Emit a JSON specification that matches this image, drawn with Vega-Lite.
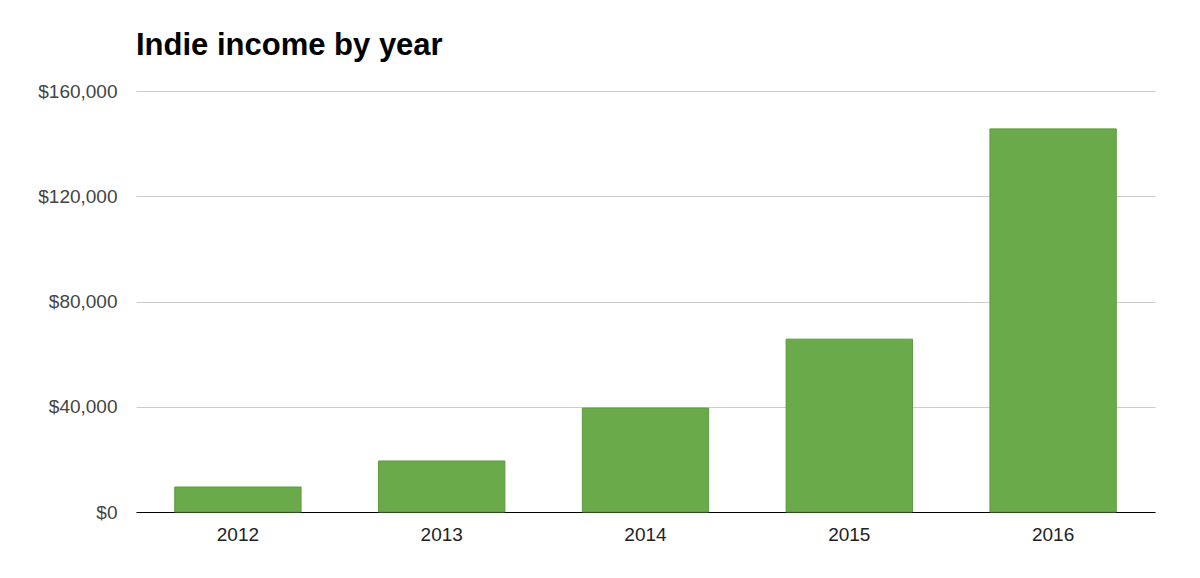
{
  "$schema": "https://vega.github.io/schema/vega-lite/v6.json",
  "autosize": {"type": "none"},
  "padding": {"left": 136, "top": 91, "right": 45, "bottom": 66},
  "width": 1019,
  "height": 421,
  "background": "white",
  "title": {
    "text": "Indie income by year",
    "anchor": "start",
    "frame": "group",
    "font": "Liberation Sans",
    "fontSize": 31,
    "fontWeight": "bold",
    "color": "#000000",
    "offset": 20
  },
  "data": {
    "values": [
      {"year": "2012", "income": 9500},
      {"year": "2013", "income": 19400},
      {"year": "2014", "income": 39500},
      {"year": "2015", "income": 65700},
      {"year": "2016", "income": 145600}
    ]
  },
  "config": {
    "view": {"stroke": null},
    "font": "Liberation Sans"
  },
  "mark": {"type": "bar", "color": "#6aaa4a", "stroke": "#5c9c3c", "strokeWidth": 1},
  "encoding": {
    "x": {
      "field": "year",
      "type": "ordinal",
      "title": null,
      "scale": {"paddingInner": 0.38, "paddingOuter": 0.19},
      "axis": {
        "labelAngle": 0,
        "labelFont": "Liberation Sans",
        "labelFontSize": 19,
        "labelColor": "#222222",
        "labelPadding": 13,
        "ticks": false,
        "domainColor": "#000000",
        "domainWidth": 1,
        "grid": false
      }
    },
    "y": {
      "field": "income",
      "type": "quantitative",
      "title": null,
      "scale": {"domain": [0, 160000], "nice": false},
      "axis": {
        "values": [0, 40000, 80000, 120000, 160000],
        "format": "$,.0f",
        "labelFont": "Liberation Sans",
        "labelFontSize": 19,
        "labelColor": "#444444",
        "labelPadding": 19,
        "ticks": false,
        "domain": false,
        "grid": true,
        "gridColor": "#cccccc",
        "gridWidth": 1
      }
    }
  }
}
